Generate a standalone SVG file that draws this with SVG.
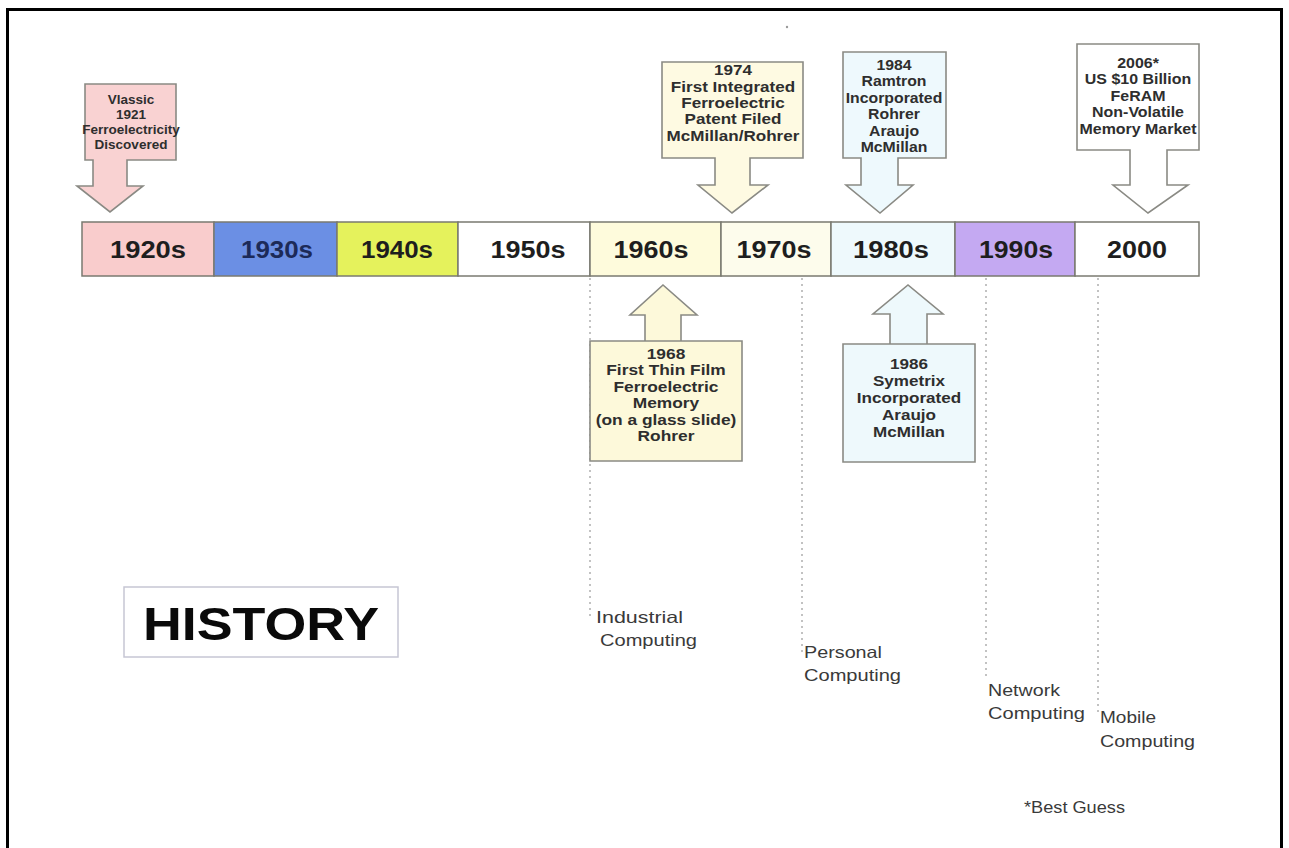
<svg xmlns="http://www.w3.org/2000/svg" width="1289" height="848" viewBox="0 0 1289 848">
  <style>
    .frame { fill: #ffffff; stroke: #000000; stroke-width: 3; }
    .seg { stroke: #7a7a70; stroke-width: 1.5; }
    .year { font-family: "Liberation Sans", Arial, sans-serif; font-weight: bold; font-size: 23px; fill: #1e1e1e; text-anchor: middle; }
    .callout { stroke: #8a8a84; stroke-width: 1.6; stroke-linejoin: miter; }
    .note { font-family: "Liberation Sans", Arial, sans-serif; font-weight: bold; font-size: 14px; fill: #2e2e2e; text-anchor: middle; }
    .era { font-family: "Liberation Sans", Arial, sans-serif; font-size: 16.5px; fill: #3a3a3a; }
    .guide { stroke: #9a9a9a; stroke-width: 1.2; stroke-dasharray: 2 4; fill: none; }
  </style>

  <!-- page frame -->
  <rect class="frame" x="7.5" y="9.5" width="1274" height="846"/>
  <circle cx="787" cy="27" r="1.2" fill="#9a9a9a"/>

  <!-- decade bar -->
  <g id="timeline">
    <rect class="seg" x="82" y="222" width="132" height="54" fill="#f9cccc"/>
    <rect class="seg" x="214" y="222" width="123" height="54" fill="#6b8fe4"/>
    <rect class="seg" x="337" y="222" width="121" height="54" fill="#e5f25c"/>
    <rect class="seg" x="458" y="222" width="132" height="54" fill="#ffffff"/>
    <rect class="seg" x="590" y="222" width="131" height="54" fill="#fefbdc"/>
    <rect class="seg" x="721" y="222" width="110" height="54" fill="#fdfcec"/>
    <rect class="seg" x="831" y="222" width="124" height="54" fill="#eef9fc"/>
    <rect class="seg" x="955" y="222" width="120" height="54" fill="#c4a9f2"/>
    <rect class="seg" x="1075" y="222" width="124" height="54" fill="#ffffff"/>
    <text class="year" x="148" y="258" textLength="76" lengthAdjust="spacingAndGlyphs">1920s</text>
    <text class="year" x="277" y="258" textLength="72" lengthAdjust="spacingAndGlyphs" style="fill:#1c2a58">1930s</text>
    <text class="year" x="397" y="258" textLength="72" lengthAdjust="spacingAndGlyphs">1940s</text>
    <text class="year" x="528" y="258" textLength="75" lengthAdjust="spacingAndGlyphs">1950s</text>
    <text class="year" x="651" y="258" textLength="75" lengthAdjust="spacingAndGlyphs">1960s</text>
    <text class="year" x="774" y="258" textLength="75" lengthAdjust="spacingAndGlyphs">1970s</text>
    <text class="year" x="891" y="258" textLength="76" lengthAdjust="spacingAndGlyphs">1980s</text>
    <text class="year" x="1016" y="258" textLength="74" lengthAdjust="spacingAndGlyphs">1990s</text>
    <text class="year" x="1137" y="258" textLength="60" lengthAdjust="spacingAndGlyphs">2000</text>
  </g>

  <!-- dotted era guides -->
  <g id="connectors">
    <line class="guide" x1="590" y1="278" x2="590" y2="620"/>
    <line class="guide" x1="802" y1="278" x2="802" y2="652"/>
    <line class="guide" x1="986" y1="278" x2="986" y2="676"/>
    <line class="guide" x1="1098" y1="278" x2="1098" y2="712"/>
  </g>

  <!-- event callouts above the bar -->
  <g id="event-1921">
    <polygon class="callout" fill="#f9d2d2" points="85,84 176,84 176,160 127,160 127,186 143,186 110,212 77,186 93,186 93,160 85,160"/>
    <g transform="translate(131,0) scale(1.04,1)">
      <text class="note" x="0" y="104" style="font-size:13px">Vlassic</text>
      <text class="note" x="0" y="119" style="font-size:13px">1921</text>
      <text class="note" x="0" y="134" style="font-size:13px">Ferroelectricity</text>
      <text class="note" x="0" y="149" style="font-size:13px">Discovered</text>
    </g>
  </g>

  <g id="event-1974">
    <polygon class="callout" fill="#fefae2" points="662,62 803,62 803,158 750,158 750,185 768,185 732,213 698,185 715,185 715,158 662,158"/>
    <g transform="translate(733,0) scale(1.22,1)">
      <text class="note" x="0" y="75">1974</text>
      <text class="note" x="0" y="91.5">First Integrated</text>
      <text class="note" x="0" y="108">Ferroelectric</text>
      <text class="note" x="0" y="124.5">Patent Filed</text>
      <text class="note" x="0" y="141">McMillan/Rohrer</text>
    </g>
  </g>

  <g id="event-1984">
    <polygon class="callout" fill="#eef9fd" points="843,52 946,52 946,158 898,158 898,185 913,185 880,213 846,185 861,185 861,158 843,158"/>
    <g transform="translate(894,0) scale(1.13,1)">
      <text class="note" x="0" y="70">1984</text>
      <text class="note" x="0" y="86.5">Ramtron</text>
      <text class="note" x="0" y="103">Incorporated</text>
      <text class="note" x="0" y="119.5">Rohrer</text>
      <text class="note" x="0" y="136">Araujo</text>
      <text class="note" x="0" y="152.5">McMillan</text>
    </g>
  </g>

  <g id="event-2006">
    <polygon class="callout" fill="#ffffff" points="1077,44 1199,44 1199,150 1167,150 1167,185 1188,185 1148,213 1113,185 1130,185 1130,150 1077,150"/>
    <g transform="translate(1138,0) scale(1.14,1)">
      <text class="note" x="0" y="68">2006*</text>
      <text class="note" x="0" y="84.5">US $10 Billion</text>
      <text class="note" x="0" y="101">FeRAM</text>
      <text class="note" x="0" y="117.5">Non-Volatile</text>
      <text class="note" x="0" y="134">Memory Market</text>
    </g>
  </g>

  <!-- event callouts below the bar -->
  <g id="event-1968">
    <polygon class="callout" fill="#fdf9da" points="590,341 742,341 742,461 590,461 590,341 645,341 645,315 630,315 663,285 697,315 681,315 681,341"/>
    <g transform="translate(666,0) scale(1.24,1)">
      <text class="note" x="0" y="359">1968</text>
      <text class="note" x="0" y="375.5">First Thin Film</text>
      <text class="note" x="0" y="392">Ferroelectric</text>
      <text class="note" x="0" y="408.5">Memory</text>
      <text class="note" x="0" y="425">(on a glass slide)</text>
      <text class="note" x="0" y="441.5">Rohrer</text>
    </g>
  </g>

  <g id="event-1986">
    <polygon class="callout" fill="#eef9fc" points="843,344 975,344 975,462 843,462 843,344 890,344 890,314 873,314 908,285 943,314 927,314 927,344"/>
    <g transform="translate(909,0) scale(1.22,1)">
      <text class="note" x="0" y="369">1986</text>
      <text class="note" x="0" y="386">Symetrix</text>
      <text class="note" x="0" y="403">Incorporated</text>
      <text class="note" x="0" y="420">Araujo</text>
      <text class="note" x="0" y="437">McMillan</text>
    </g>
  </g>

  <!-- title -->
  <g id="title">
    <rect x="124" y="587" width="274" height="70" fill="#ffffff" stroke="#c6c6d4" stroke-width="1.5"/>
    <text x="261" y="640" text-anchor="middle" font-family="'Liberation Sans', Arial, sans-serif" font-weight="bold" font-size="47" fill="#0a0a0a" textLength="236" lengthAdjust="spacingAndGlyphs">HISTORY</text>
  </g>

  <!-- computing eras -->
  <g id="era-industrial">
    <text class="era" x="596" y="623" textLength="87" lengthAdjust="spacingAndGlyphs">Industrial</text>
    <text class="era" x="600" y="646" textLength="97" lengthAdjust="spacingAndGlyphs">Computing</text>
  </g>
  <g id="era-personal">
    <text class="era" x="804" y="658" textLength="78" lengthAdjust="spacingAndGlyphs">Personal</text>
    <text class="era" x="804" y="681" textLength="97" lengthAdjust="spacingAndGlyphs">Computing</text>
  </g>
  <g id="era-network">
    <text class="era" x="988" y="696" textLength="72" lengthAdjust="spacingAndGlyphs">Network</text>
    <text class="era" x="988" y="719" textLength="97" lengthAdjust="spacingAndGlyphs">Computing</text>
  </g>
  <g id="era-mobile">
    <text class="era" x="1100" y="723" textLength="56" lengthAdjust="spacingAndGlyphs">Mobile</text>
    <text class="era" x="1100" y="747" textLength="95" lengthAdjust="spacingAndGlyphs">Computing</text>
  </g>

  <g id="footnote">
    <text class="era" x="1024" y="813" textLength="101" lengthAdjust="spacingAndGlyphs">*Best Guess</text>
  </g>
</svg>
